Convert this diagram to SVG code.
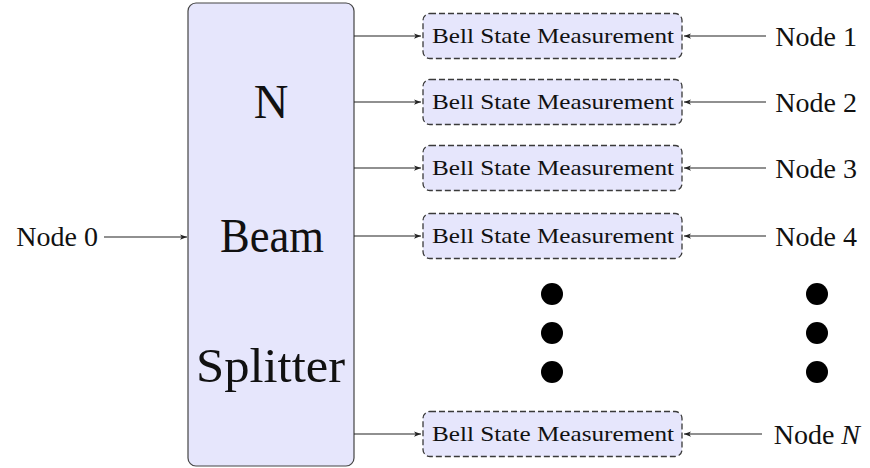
<svg xmlns="http://www.w3.org/2000/svg" width="870" height="468" viewBox="0 0 870 468">
<style>
.bs{fill:#e6e6fc;stroke:#444;stroke-width:1.2}
.bsm{fill:#e6e6fc;stroke:#3a3a3a;stroke-width:1.3;stroke-dasharray:6 3}
.t{font-family:"Liberation Serif","DejaVu Serif",serif;fill:#111}
.s{font-size:22px}
.n{font-size:28px}
.b{font-size:48px}
.c{stroke:#222;stroke-width:1.2;fill:none;marker-end:url(#ah)}
</style>
<defs>
<marker id="ah" viewBox="0 0 8 6" refX="8" refY="3" markerWidth="7" markerHeight="5.5" markerUnits="userSpaceOnUse" orient="auto">
<path d="M0,0 L8,3 L0,6 L2,3 z" fill="#222"/>
</marker>
</defs>
<g id="splitter">
<rect class="bs" x="188" y="3" width="166" height="463" rx="8"/>
<text class="t b" x="271" y="118" text-anchor="middle">N</text>
<text class="t b" x="272" y="252" text-anchor="middle" textLength="104" lengthAdjust="spacingAndGlyphs">Beam</text>
<text class="t b" x="270.5" y="382" text-anchor="middle" textLength="149" lengthAdjust="spacingAndGlyphs">Splitter</text>
</g>
<g id="node0"><text class="t n" x="98" y="246" text-anchor="end">Node 0</text></g>
<g id="bsm1"><rect class="bsm" x="423" y="13.5" width="259" height="45" rx="7"/><text class="t s" x="553" y="43.3" text-anchor="middle" textLength="242" lengthAdjust="spacingAndGlyphs">Bell State Measurement</text></g>
<g id="bsm2"><rect class="bsm" x="423" y="79.5" width="259" height="45" rx="7"/><text class="t s" x="553" y="109.3" text-anchor="middle" textLength="242" lengthAdjust="spacingAndGlyphs">Bell State Measurement</text></g>
<g id="bsm3"><rect class="bsm" x="423" y="145.5" width="259" height="45" rx="7"/><text class="t s" x="553" y="175.3" text-anchor="middle" textLength="242" lengthAdjust="spacingAndGlyphs">Bell State Measurement</text></g>
<g id="bsm4"><rect class="bsm" x="423" y="213.5" width="259" height="45" rx="7"/><text class="t s" x="553" y="243.3" text-anchor="middle" textLength="242" lengthAdjust="spacingAndGlyphs">Bell State Measurement</text></g>
<g id="bsmN"><rect class="bsm" x="423" y="411.5" width="259" height="45" rx="7"/><text class="t s" x="553" y="441.3" text-anchor="middle" textLength="242" lengthAdjust="spacingAndGlyphs">Bell State Measurement</text></g>
<g id="node1"><text class="t n" x="857" y="46" text-anchor="end">Node 1</text></g>
<g id="node2"><text class="t n" x="857" y="112" text-anchor="end">Node 2</text></g>
<g id="node3"><text class="t n" x="857" y="178" text-anchor="end">Node 3</text></g>
<g id="node4"><text class="t n" x="857" y="246" text-anchor="end">Node 4</text></g>
<g id="nodeN"><text class="t n" x="860" y="444" text-anchor="end">Node <tspan font-style="italic">N</tspan></text></g>
<g id="dots">
<circle cx="552" cy="294" r="11"/><circle cx="552" cy="333" r="11"/><circle cx="552" cy="372" r="11"/>
<circle cx="817" cy="294" r="11"/><circle cx="817" cy="333" r="11"/><circle cx="817" cy="372" r="11"/>
</g>
<g id="connectors">
<path class="c" d="M104,237 H187"/>
<path class="c" d="M354,36 H421"/>
<path class="c" d="M354,102 H421"/>
<path class="c" d="M354,168 H421"/>
<path class="c" d="M354,236 H421"/>
<path class="c" d="M354,434 H421"/>
<path class="c" d="M766,36 H684"/>
<path class="c" d="M766,102 H684"/>
<path class="c" d="M766,168 H684"/>
<path class="c" d="M766,236 H684"/>
<path class="c" d="M762,434 H684"/>
</g>
</svg>
